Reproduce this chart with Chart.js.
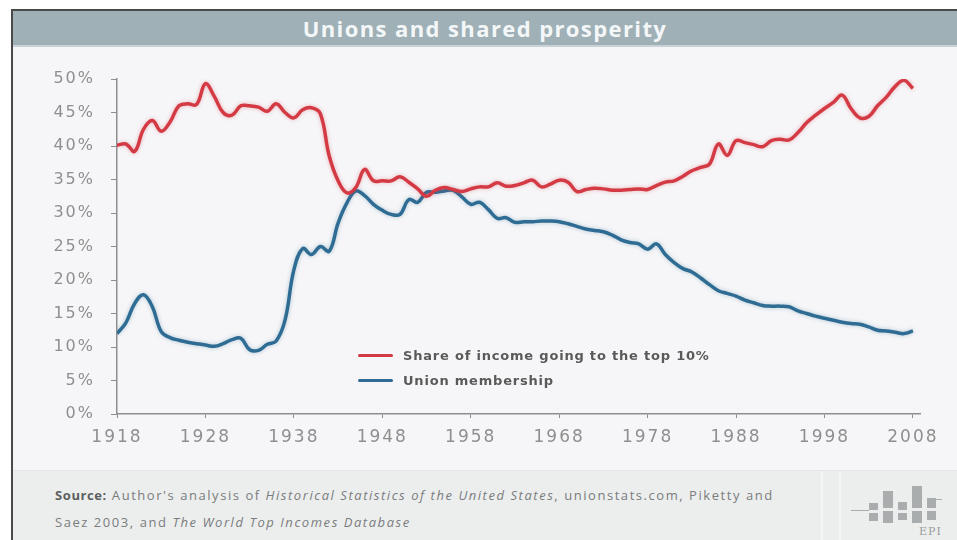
<!DOCTYPE html>
<html>
<head>
  <meta charset="utf-8">
  <script src="https://cdn.jsdelivr.net/npm/chart.js"></script>
  <title>Unions and shared prosperity</title>
  <style>
    body { margin: 0; width: 957px; height: 540px; background: #ffffff; position: relative; overflow: hidden; }
    #frame { position: absolute; left: 11px; top: 9px; width: 946px; height: 531px; border-top: 2px solid #4a4a4a; border-left: 2px solid #4a4a4a; background: #f6f6f8; }
    #titlebar { position: absolute; left: 13px; top: 11px; width: 944px; height: 34px; background: #9fb0b7; border-bottom: 2px solid #c9d3d7;
      color: #f4f7f8; font: bold 22px "Open Sans", sans-serif; text-align: center; line-height: 34px; letter-spacing: 1.4px; }
    #footer { position: absolute; left: 13px; top: 470px; width: 944px; height: 70px; background: #eceeee; border-top: 1px solid #e3e6e6; }
    #divider { position: absolute; left: 808px; top: 0; width: 16px; height: 70px; border-left: 2px solid #f4f5f5; border-right: 2px solid #f4f5f5; }
    #source { position: absolute; left: 42px; top: 11px; font: 13px "Open Sans", sans-serif; color: #7a7c7d; line-height: 27px; letter-spacing: 1.55px; }
    #source b { color: #5c5f60; letter-spacing: 0.6px; }
    #logo { position: absolute; left: 828px; top: 12px; width: 115px; height: 58px; }
    #logo div { position: absolute; background: #a9adae; }
    #logo span { position: absolute; left: 78px; top: 42px; font: 11px "DejaVu Serif", serif; color: #9a9d9e; letter-spacing: 1px; }
    canvas { position: absolute; left: 0; top: 0; }
    #legend { position: absolute; left: 358px; top: 343px; font: bold 13px "DejaVu Sans", sans-serif; color: #5a5a5a; letter-spacing: 0.8px; }
    #legend .row { height: 25px; display: flex; align-items: center; }
    #legend .swatch { width: 35px; height: 3px; margin-right: 10px; border-radius: 2px; }
  </style>
</head>
<body>
  <div id="frame"></div>
  <div id="titlebar">Unions and shared prosperity</div>
  <div id="footer">
    <div id="divider"></div>
    <div id="source"><b>Source:</b> Author's analysis of <i>Historical Statistics of the United States</i>, unionstats.com, Piketty and<br>Saez 2003, and <i>The World Top Incomes Database</i></div>
    <div id="logo">
      <div style="left:10px;top:27px;width:18px;height:1px;"></div>
      <div style="left:28px;top:20px;width:9px;height:7px;"></div>
      <div style="left:28px;top:30px;width:9px;height:8px;"></div>
      <div style="left:42px;top:8px;width:10px;height:17px;"></div>
      <div style="left:42px;top:28px;width:10px;height:12px;"></div>
      <div style="left:57px;top:19px;width:9px;height:8px;"></div>
      <div style="left:57px;top:30px;width:9px;height:7px;"></div>
      <div style="left:71px;top:3px;width:10px;height:22px;"></div>
      <div style="left:71px;top:28px;width:10px;height:12px;"></div>
      <div style="left:86px;top:15px;width:9px;height:10px;"></div>
      <div style="left:86px;top:28px;width:9px;height:9px;"></div>
      <div style="left:95px;top:16px;width:6px;height:1px;"></div>
      <span>EPI</span>
    </div>
  </div>
  <canvas id="myChart" width="957" height="540"></canvas>
  <div id="legend"></div>

  <script>
    // data, one value per year starting 1918
    const firstYear = 1918;
    const seriesNames = ['Share of income going to the top 10%', 'Union membership'];
    const seriesColors = ['#d33a44', '#2f6c93'];
    const incomeTop10 = [
      40.1, 40.3, 39.2, 42.5, 43.8, 42.2, 43.6, 46.0, 46.3, 46.2,
      49.3, 47.4, 45.0, 44.6, 46.0, 46.0, 45.8, 45.2, 46.3, 45.0,
      44.2, 45.4, 45.7, 44.8, 38.5, 34.8, 33.0, 33.8, 36.5, 34.8,
      34.8, 34.8, 35.4, 34.6, 33.6, 32.5, 33.4, 33.8, 33.5, 33.2,
      33.6, 33.9, 33.9, 34.5, 34.0, 34.1, 34.5, 34.9, 33.9, 34.3,
      34.9, 34.6, 33.2, 33.5, 33.7, 33.6, 33.4, 33.4, 33.5, 33.6,
      33.5, 34.1, 34.6, 34.8, 35.5, 36.3, 36.8, 37.3, 40.3, 38.6,
      40.8, 40.5, 40.2, 39.9, 40.8, 41.0, 40.9, 42.0, 43.5, 44.6,
      45.6, 46.5, 47.6, 45.6, 44.2, 44.4, 46.0, 47.3, 48.9, 49.8,
      48.6
    ];
    const unionMembership = [
      12.0, 13.6, 16.5, 17.8, 16.0, 12.3, 11.4, 11.0, 10.7, 10.5,
      10.3, 10.1, 10.5, 11.1, 11.3, 9.6, 9.5, 10.4, 10.9, 14.0,
      21.5, 24.7, 23.8, 25.0, 24.3, 28.5, 31.5, 33.3, 32.6, 31.3,
      30.4, 29.8, 29.8, 32.0, 31.6, 33.1, 33.1, 33.3, 33.4, 32.4,
      31.3, 31.6, 30.5, 29.2, 29.3, 28.6, 28.7, 28.7, 28.8, 28.8,
      28.7, 28.4, 28.0, 27.6, 27.4, 27.2, 26.7, 26.0, 25.6, 25.4,
      24.6, 25.4, 23.8, 22.6, 21.7, 21.2, 20.3, 19.3, 18.4, 18.0,
      17.6, 17.0, 16.6, 16.2, 16.1, 16.1, 16.0, 15.4, 15.0, 14.6,
      14.3, 14.0, 13.7, 13.5, 13.4, 13.0, 12.5, 12.4, 12.2, 12.0,
      12.4
    ];
    const xTickYears = [1918, 1928, 1938, 1948, 1958, 1968, 1978, 1988, 1998, 2008];
    const yTickValues = [0, 5, 10, 15, 20, 25, 30, 35, 40, 45, 50];

    const toPoints = arr => arr.map((v, i) => ({ x: firstYear + i, y: v }));

    // wide axis lettering + soft halo around the lines like in the printed chart
    const glow = {
      id: 'glow',
      beforeDraw(chart) { chart.ctx.letterSpacing = '2px'; },
      beforeDatasetDraw(chart, args) {
        const c = chart.ctx;
        c.save();
        c.shadowColor = args.index === 0 ? 'rgba(211,58,68,0.35)' : 'rgba(47,108,147,0.35)';
        c.shadowBlur = 4;
      },
      afterDatasetDraw(chart) { chart.ctx.restore(); }
    };

    const ctx = document.getElementById('myChart').getContext('2d');
    const chart = new Chart(ctx, {
      type: 'line',
      data: {
        datasets: [
          { label: seriesNames[0], data: toPoints(incomeTop10), borderColor: seriesColors[0], borderWidth: 3.5, tension: 0.4, pointRadius: 0, fill: false },
          { label: seriesNames[1], data: toPoints(unionMembership), borderColor: seriesColors[1], borderWidth: 3.5, tension: 0.4, pointRadius: 0, fill: false }
        ]
      },
      options: {
        responsive: false,
        animation: false,
        layout: { padding: { left: 0, right: 37, top: 79, bottom: 96 } },
        plugins: { legend: { display: false }, tooltip: { enabled: false } },
        scales: {
          x: {
            type: 'linear',
            min: 1918,
            max: 2008.8,
            afterBuildTicks: s => { s.ticks = xTickYears.map(v => ({ value: v })); },
            afterFit: s => { s.height = 30; },
            border: { display: true, color: '#8e8e8e', width: 1.5 },
            grid: { drawOnChartArea: false, drawTicks: true, tickLength: 4, color: '#8e8e8e' },
            ticks: { callback: v => String(v), color: '#8f8f8f', font: { family: 'DejaVu Sans', size: 17 }, padding: 9, maxRotation: 0, autoSkip: false }
          },
          y: {
            min: 0,
            max: 50,
            afterBuildTicks: s => { s.ticks = yTickValues.map(v => ({ value: v })); },
            afterFit: s => { s.width = 117; },
            border: { display: true, color: '#8e8e8e', width: 1.5 },
            grid: { drawOnChartArea: false, drawTicks: true, tickLength: 6, color: '#8e8e8e' },
            ticks: { callback: v => v + '%', color: '#8f8f8f', font: { family: 'DejaVu Sans', size: 16 }, padding: 16 }
          }
        }
      },
      plugins: [glow]
    });

    // legend placed inside the plot, as in the original
    const legend = document.getElementById('legend');
    chart.data.datasets.forEach(ds => {
      const row = document.createElement('div');
      row.className = 'row';
      row.innerHTML = '<div class="swatch" style="background:' + ds.borderColor + '"></div><span>' + ds.label + '</span>';
      legend.appendChild(row);
    });
  </script>
</body>
</html>
